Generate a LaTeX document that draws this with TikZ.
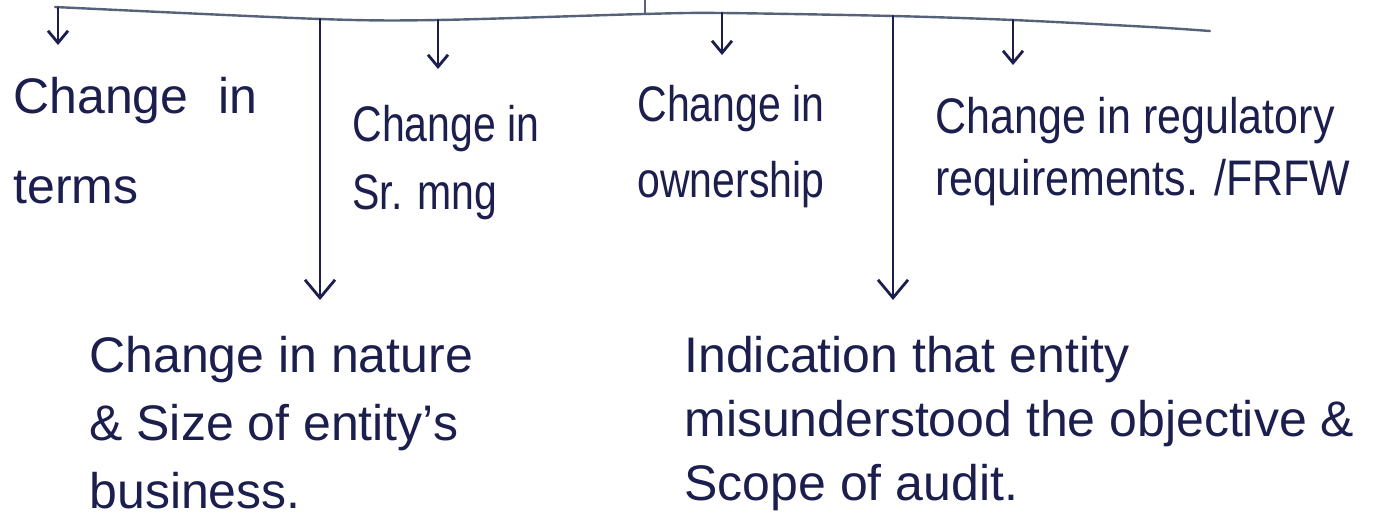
\documentclass[tikz,border=0pt]{standalone}
\usepackage{fontspec}
\setmainfont{Liberation Sans}
\newfontfamily\condensedhand[FakeStretch=0.82]{Liberation Sans}
\newfontfamily\semicondensedhand[FakeStretch=0.86]{Liberation Sans}
\usetikzlibrary{arrows.meta}
\definecolor{ink}{HTML}{1C1F4E}
\definecolor{barink}{HTML}{55627A}
\begin{document}
\begin{tikzpicture}[x=0.5pt,y=-0.5pt,
  lbl/.style={anchor=north west, inner sep=0pt, align=left, text=ink,
              font=\fontsize{25}{31}\selectfont},
  narrowlbl/.style={lbl, font=\fontsize{25}{31}\condensedhand},
  widerlbl/.style={lbl, font=\fontsize{25}{31}\semicondensedhand},
  branch/.style={draw=ink, line width=1.4pt, line cap=round,
                 -{Straight Barb[length=6pt,width=10pt]}},
  longbranch/.style={draw=ink, line width=1.4pt, line cap=round,
                     -{Straight Barb[length=9pt,width=15pt]}},
  topbar/.style={draw=barink, line width=1.2pt, line cap=round}]
\useasboundingbox (0,0) rectangle (1379,531);

% horizontal distribution bar
\draw[topbar] plot[smooth, tension=0.5] coordinates
  {(55,7) (320,19) (438,20) (643,14) (722,13) (893,16) (1013,20) (1150,27) (1210,31)};

% attachment points on the bar
\coordinate (up)  at (645,0);
\coordinate (hub) at (645,14);
\coordinate (t1)  at (58,8);
\coordinate (t2)  at (320,19);
\coordinate (t3)  at (438,20);
\coordinate (t4)  at (722,13);
\coordinate (t5)  at (893,16);
\coordinate (t6)  at (1013,20);

% labels
\node[lbl]       (terms) at (13,77)   {Change\hspace{8pt} in\\[14pt]terms};
\node[narrowlbl] (srmng) at (352,105) {Change in\\[3pt]Sr. mng};
\node[narrowlbl] (own)   at (637,85)  {Change in\\[7pt]ownership};
\node[widerlbl]  (reg)   at (935,97)  {Change in regulatory\\[0pt]requirements. /FRFW};
\node[lbl]       (nat)   at (89,336)  {Change in nature\\[3pt]\& Size of entity's\\[3pt]business.};
\node[lbl]       (ind)   at (684,336) {Indication that entity\\[1pt]misunderstood the objective \&\\[1pt]Scope of audit.};

% connectors
\draw[topbar] (hub) -- (up);
\draw[branch] (t1) -- (t1 |- terms.north) [shorten >=16pt];
\draw[branch] (t3) -- (t3 |- srmng.north) [shorten >=18pt];
\draw[branch] (t4) -- (t4 |- own.north) [shorten >=15pt];
\draw[branch] (t6) -- (t6 |- reg.north) [shorten >=16pt];
\draw[longbranch] (t2) -- (t2 |- nat.north) [shorten >=18pt];
\draw[longbranch] (t5) -- (t5 |- ind.north) [shorten >=18pt];
\end{tikzpicture}
\end{document}
